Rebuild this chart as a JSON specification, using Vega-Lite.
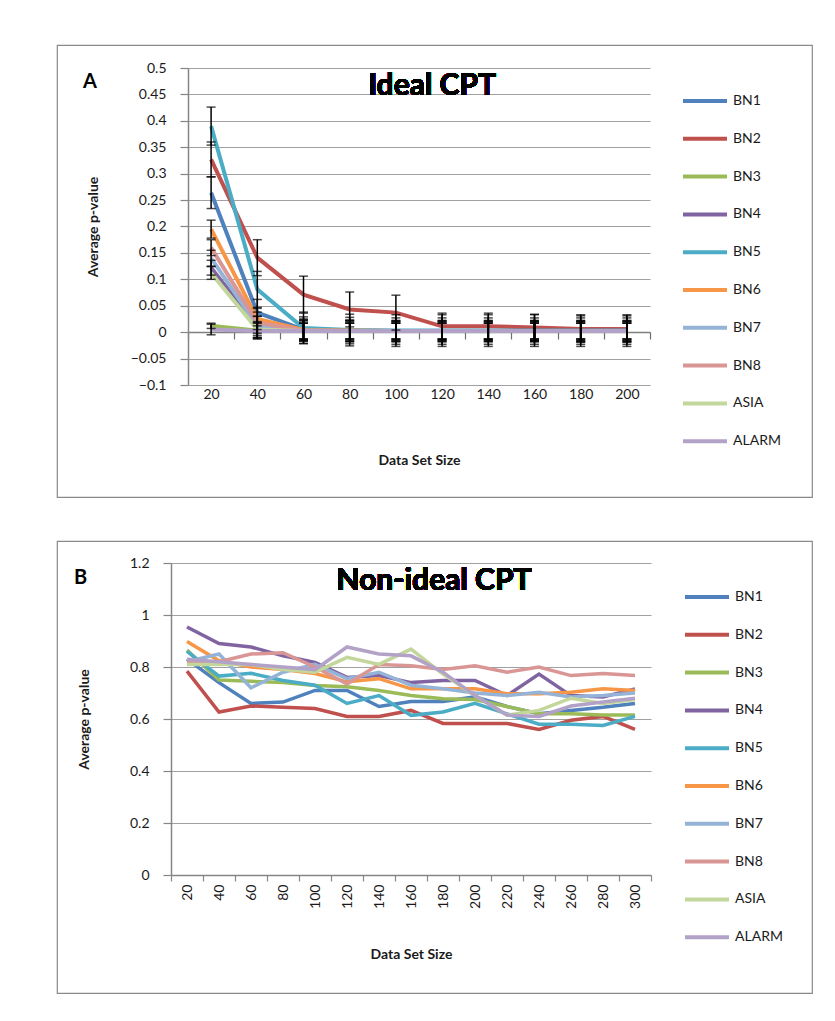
{
  "$schema": "https://vega.github.io/schema/vega-lite/v6.json",
  "background": "white",
  "padding": {"left": 49, "top": 44, "right": 5, "bottom": 5},
  "spacing": 42,
  "config": {
    "font": "Lato",
    "view": {"stroke": "#8a8a8a", "strokeWidth": 1.2},
    "axis": {"labelFont": "Lato", "labelFontSize": 14, "labelColor": "#1a1a1a", "titleFont": "Lato", "titleFontSize": 14, "titleFontWeight": "bold", "titleColor": "#1a1a1a", "domainColor": "#868686", "tickColor": "#868686", "gridColor": "#a0a0a0", "domainWidth": 1.5, "tickWidth": 1.2},
    "legend": {"labelFont": "Lato", "labelFontSize": 14, "labelColor": "#1a1a1a"}
  },
  "datasets": {
    "a": [
      {"s":"BN1","n":20,"v":0.264,"err":0.03},{"s":"BN1","n":40,"v":0.037,"err":0.025},{"s":"BN1","n":60,"v":0.005,"err":0.02},{"s":"BN1","n":80,"v":0.003,"err":0.02},{"s":"BN1","n":100,"v":0.002,"err":0.018},{"s":"BN1","n":120,"v":0.002,"err":0.018},{"s":"BN1","n":140,"v":0.002,"err":0.018},{"s":"BN1","n":160,"v":0.002,"err":0.018},{"s":"BN1","n":180,"v":0.002,"err":0.018},{"s":"BN1","n":200,"v":0.002,"err":0.018},
      {"s":"BN2","n":20,"v":0.327,"err":0.033},{"s":"BN2","n":40,"v":0.141,"err":0.034},{"s":"BN2","n":60,"v":0.071,"err":0.035},{"s":"BN2","n":80,"v":0.043,"err":0.033},{"s":"BN2","n":100,"v":0.037,"err":0.033},{"s":"BN2","n":120,"v":0.011,"err":0.025},{"s":"BN2","n":140,"v":0.011,"err":0.025},{"s":"BN2","n":160,"v":0.009,"err":0.025},{"s":"BN2","n":180,"v":0.006,"err":0.025},{"s":"BN2","n":200,"v":0.006,"err":0.025},
      {"s":"BN3","n":20,"v":0.012,"err":0.005},{"s":"BN3","n":40,"v":0.003,"err":0.015},{"s":"BN3","n":60,"v":0.002,"err":0.015},{"s":"BN3","n":80,"v":0.002,"err":0.015},{"s":"BN3","n":100,"v":0.002,"err":0.015},{"s":"BN3","n":120,"v":0.002,"err":0.015},{"s":"BN3","n":140,"v":0.002,"err":0.015},{"s":"BN3","n":160,"v":0.002,"err":0.015},{"s":"BN3","n":180,"v":0.002,"err":0.015},{"s":"BN3","n":200,"v":0.002,"err":0.015},
      {"s":"BN4","n":20,"v":0.122,"err":0.014},{"s":"BN4","n":40,"v":0.01,"err":0.02},{"s":"BN4","n":60,"v":0.003,"err":0.02},{"s":"BN4","n":80,"v":0.002,"err":0.02},{"s":"BN4","n":100,"v":0.002,"err":0.02},{"s":"BN4","n":120,"v":0.002,"err":0.02},{"s":"BN4","n":140,"v":0.002,"err":0.02},{"s":"BN4","n":160,"v":0.002,"err":0.02},{"s":"BN4","n":180,"v":0.002,"err":0.02},{"s":"BN4","n":200,"v":0.002,"err":0.02},
      {"s":"BN5","n":20,"v":0.39,"err":0.036},{"s":"BN5","n":40,"v":0.081,"err":0.034},{"s":"BN5","n":60,"v":0.008,"err":0.03},{"s":"BN5","n":80,"v":0.004,"err":0.03},{"s":"BN5","n":100,"v":0.003,"err":0.03},{"s":"BN5","n":120,"v":0.003,"err":0.03},{"s":"BN5","n":140,"v":0.003,"err":0.03},{"s":"BN5","n":160,"v":0.003,"err":0.03},{"s":"BN5","n":180,"v":0.003,"err":0.03},{"s":"BN5","n":200,"v":0.003,"err":0.03},
      {"s":"BN6","n":20,"v":0.195,"err":0.017},{"s":"BN6","n":40,"v":0.025,"err":0.02},{"s":"BN6","n":60,"v":0.004,"err":0.025},{"s":"BN6","n":80,"v":0.003,"err":0.025},{"s":"BN6","n":100,"v":0.002,"err":0.025},{"s":"BN6","n":120,"v":0.002,"err":0.025},{"s":"BN6","n":140,"v":0.002,"err":0.025},{"s":"BN6","n":160,"v":0.002,"err":0.025},{"s":"BN6","n":180,"v":0.002,"err":0.025},{"s":"BN6","n":200,"v":0.002,"err":0.025},
      {"s":"BN7","n":20,"v":0.14,"err":0.015},{"s":"BN7","n":40,"v":0.012,"err":0.018},{"s":"BN7","n":60,"v":0.003,"err":0.018},{"s":"BN7","n":80,"v":0.002,"err":0.018},{"s":"BN7","n":100,"v":0.002,"err":0.018},{"s":"BN7","n":120,"v":0.002,"err":0.018},{"s":"BN7","n":140,"v":0.002,"err":0.018},{"s":"BN7","n":160,"v":0.002,"err":0.018},{"s":"BN7","n":180,"v":0.002,"err":0.018},{"s":"BN7","n":200,"v":0.002,"err":0.018},
      {"s":"BN8","n":20,"v":0.16,"err":0.015},{"s":"BN8","n":40,"v":0.018,"err":0.02},{"s":"BN8","n":60,"v":0.003,"err":0.02},{"s":"BN8","n":80,"v":0.002,"err":0.02},{"s":"BN8","n":100,"v":0.002,"err":0.02},{"s":"BN8","n":120,"v":0.002,"err":0.02},{"s":"BN8","n":140,"v":0.002,"err":0.02},{"s":"BN8","n":160,"v":0.002,"err":0.02},{"s":"BN8","n":180,"v":0.002,"err":0.02},{"s":"BN8","n":200,"v":0.002,"err":0.02},
      {"s":"ASIA","n":20,"v":0.112,"err":0.012},{"s":"ASIA","n":40,"v":0.005,"err":0.015},{"s":"ASIA","n":60,"v":0.002,"err":0.015},{"s":"ASIA","n":80,"v":0.002,"err":0.015},{"s":"ASIA","n":100,"v":0.002,"err":0.015},{"s":"ASIA","n":120,"v":0.002,"err":0.015},{"s":"ASIA","n":140,"v":0.002,"err":0.015},{"s":"ASIA","n":160,"v":0.002,"err":0.015},{"s":"ASIA","n":180,"v":0.002,"err":0.015},{"s":"ASIA","n":200,"v":0.002,"err":0.015},
      {"s":"ALARM","n":20,"v":0.005,"err":0.01},{"s":"ALARM","n":40,"v":0.002,"err":0.015},{"s":"ALARM","n":60,"v":0.002,"err":0.015},{"s":"ALARM","n":80,"v":0.002,"err":0.015},{"s":"ALARM","n":100,"v":0.002,"err":0.015},{"s":"ALARM","n":120,"v":0.002,"err":0.015},{"s":"ALARM","n":140,"v":0.002,"err":0.015},{"s":"ALARM","n":160,"v":0.002,"err":0.015},{"s":"ALARM","n":180,"v":0.002,"err":0.015},{"s":"ALARM","n":200,"v":0.002,"err":0.015}
    ],
    "b": [
      {"s":"BN1","n":20,"v":0.83},{"s":"BN1","n":40,"v":0.74},{"s":"BN1","n":60,"v":0.66},{"s":"BN1","n":80,"v":0.665},{"s":"BN1","n":100,"v":0.71},{"s":"BN1","n":120,"v":0.71},{"s":"BN1","n":140,"v":0.648},{"s":"BN1","n":160,"v":0.667},{"s":"BN1","n":180,"v":0.667},{"s":"BN1","n":200,"v":0.685},{"s":"BN1","n":220,"v":0.648},{"s":"BN1","n":240,"v":0.62},{"s":"BN1","n":260,"v":0.633},{"s":"BN1","n":280,"v":0.645},{"s":"BN1","n":300,"v":0.66},
      {"s":"BN2","n":20,"v":0.784},{"s":"BN2","n":40,"v":0.627},{"s":"BN2","n":60,"v":0.65},{"s":"BN2","n":80,"v":0.645},{"s":"BN2","n":100,"v":0.64},{"s":"BN2","n":120,"v":0.61},{"s":"BN2","n":140,"v":0.61},{"s":"BN2","n":160,"v":0.633},{"s":"BN2","n":180,"v":0.583},{"s":"BN2","n":200,"v":0.583},{"s":"BN2","n":220,"v":0.583},{"s":"BN2","n":240,"v":0.56},{"s":"BN2","n":260,"v":0.595},{"s":"BN2","n":280,"v":0.61},{"s":"BN2","n":300,"v":0.56},
      {"s":"BN3","n":20,"v":0.865},{"s":"BN3","n":40,"v":0.75},{"s":"BN3","n":60,"v":0.745},{"s":"BN3","n":80,"v":0.74},{"s":"BN3","n":100,"v":0.729},{"s":"BN3","n":120,"v":0.724},{"s":"BN3","n":140,"v":0.71},{"s":"BN3","n":160,"v":0.69},{"s":"BN3","n":180,"v":0.678},{"s":"BN3","n":200,"v":0.675},{"s":"BN3","n":220,"v":0.648},{"s":"BN3","n":240,"v":0.62},{"s":"BN3","n":260,"v":0.62},{"s":"BN3","n":280,"v":0.615},{"s":"BN3","n":300,"v":0.615},
      {"s":"BN4","n":20,"v":0.954},{"s":"BN4","n":40,"v":0.89},{"s":"BN4","n":60,"v":0.877},{"s":"BN4","n":80,"v":0.843},{"s":"BN4","n":100,"v":0.818},{"s":"BN4","n":120,"v":0.76},{"s":"BN4","n":140,"v":0.767},{"s":"BN4","n":160,"v":0.74},{"s":"BN4","n":180,"v":0.748},{"s":"BN4","n":200,"v":0.748},{"s":"BN4","n":220,"v":0.69},{"s":"BN4","n":240,"v":0.773},{"s":"BN4","n":260,"v":0.69},{"s":"BN4","n":280,"v":0.685},{"s":"BN4","n":300,"v":0.716},
      {"s":"BN5","n":20,"v":0.86},{"s":"BN5","n":40,"v":0.765},{"s":"BN5","n":60,"v":0.776},{"s":"BN5","n":80,"v":0.748},{"s":"BN5","n":100,"v":0.73},{"s":"BN5","n":120,"v":0.66},{"s":"BN5","n":140,"v":0.69},{"s":"BN5","n":160,"v":0.614},{"s":"BN5","n":180,"v":0.627},{"s":"BN5","n":200,"v":0.66},{"s":"BN5","n":220,"v":0.62},{"s":"BN5","n":240,"v":0.58},{"s":"BN5","n":260,"v":0.58},{"s":"BN5","n":280,"v":0.575},{"s":"BN5","n":300,"v":0.61},
      {"s":"BN6","n":20,"v":0.898},{"s":"BN6","n":40,"v":0.824},{"s":"BN6","n":60,"v":0.8},{"s":"BN6","n":80,"v":0.79},{"s":"BN6","n":100,"v":0.775},{"s":"BN6","n":120,"v":0.743},{"s":"BN6","n":140,"v":0.755},{"s":"BN6","n":160,"v":0.716},{"s":"BN6","n":180,"v":0.716},{"s":"BN6","n":200,"v":0.716},{"s":"BN6","n":220,"v":0.697},{"s":"BN6","n":240,"v":0.697},{"s":"BN6","n":260,"v":0.703},{"s":"BN6","n":280,"v":0.716},{"s":"BN6","n":300,"v":0.71},
      {"s":"BN7","n":20,"v":0.82},{"s":"BN7","n":40,"v":0.85},{"s":"BN7","n":60,"v":0.72},{"s":"BN7","n":80,"v":0.78},{"s":"BN7","n":100,"v":0.81},{"s":"BN7","n":120,"v":0.755},{"s":"BN7","n":140,"v":0.78},{"s":"BN7","n":160,"v":0.73},{"s":"BN7","n":180,"v":0.716},{"s":"BN7","n":200,"v":0.7},{"s":"BN7","n":220,"v":0.69},{"s":"BN7","n":240,"v":0.703},{"s":"BN7","n":260,"v":0.685},{"s":"BN7","n":280,"v":0.69},{"s":"BN7","n":300,"v":0.7},
      {"s":"BN8","n":20,"v":0.815},{"s":"BN8","n":40,"v":0.82},{"s":"BN8","n":60,"v":0.85},{"s":"BN8","n":80,"v":0.855},{"s":"BN8","n":100,"v":0.8},{"s":"BN8","n":120,"v":0.735},{"s":"BN8","n":140,"v":0.81},{"s":"BN8","n":160,"v":0.805},{"s":"BN8","n":180,"v":0.79},{"s":"BN8","n":200,"v":0.805},{"s":"BN8","n":220,"v":0.78},{"s":"BN8","n":240,"v":0.8},{"s":"BN8","n":260,"v":0.767},{"s":"BN8","n":280,"v":0.775},{"s":"BN8","n":300,"v":0.767},
      {"s":"ASIA","n":20,"v":0.81},{"s":"ASIA","n":40,"v":0.81},{"s":"ASIA","n":60,"v":0.81},{"s":"ASIA","n":80,"v":0.79},{"s":"ASIA","n":100,"v":0.78},{"s":"ASIA","n":120,"v":0.837},{"s":"ASIA","n":140,"v":0.81},{"s":"ASIA","n":160,"v":0.869},{"s":"ASIA","n":180,"v":0.773},{"s":"ASIA","n":200,"v":0.69},{"s":"ASIA","n":220,"v":0.615},{"s":"ASIA","n":240,"v":0.633},{"s":"ASIA","n":260,"v":0.68},{"s":"ASIA","n":280,"v":0.66},{"s":"ASIA","n":300,"v":0.675},
      {"s":"ALARM","n":20,"v":0.83},{"s":"ALARM","n":40,"v":0.82},{"s":"ALARM","n":60,"v":0.81},{"s":"ALARM","n":80,"v":0.8},{"s":"ALARM","n":100,"v":0.79},{"s":"ALARM","n":120,"v":0.877},{"s":"ALARM","n":140,"v":0.85},{"s":"ALARM","n":160,"v":0.843},{"s":"ALARM","n":180,"v":0.78},{"s":"ALARM","n":200,"v":0.69},{"s":"ALARM","n":220,"v":0.615},{"s":"ALARM","n":240,"v":0.61},{"s":"ALARM","n":260,"v":0.65},{"s":"ALARM","n":280,"v":0.665},{"s":"ALARM","n":300,"v":0.68}
    ]
  },
  "vconcat": [
    {
      "width": 755,
      "height": 452,
      "title": {"text": "A", "anchor": "start", "frame": "group", "fontSize": 20, "fontWeight": "bold", "font": "Lato", "color": "#000", "baseline": "top", "offset": -47, "dx": 26},
      "data": {"name": "a"},
      "resolve": {"axis": {"x": "independent", "y": "independent"}},
      "layer": [
        {
          "mark": {"type": "line", "strokeWidth": 4},
          "encoding": {
            "x": {"field": "n", "type": "ordinal", "scale": {"type": "band", "domain": [20,40,60,80,100,120,140,160,180,200], "range": [131, 593], "paddingInner": 0, "paddingOuter": 0},
              "axis": {"orient": "bottom", "offset": -165, "title": "Data Set Size", "titlePadding": 52, "labelAngle": 0, "domain": true, "domainColor": "#808080", "ticks": true, "tickBand": "extent", "tickSize": 7, "tickColor": "#6e6e6e", "labelPadding": 48, "grid": false}},
            "y": {"field": "v", "type": "quantitative", "scale": {"domain": [-0.1, 0.5], "range": [340, 23], "nice": false, "zero": false},
              "axis": {"orient": "left", "offset": -131, "title": "Average p-value", "values": [-0.1,-0.05,0,0.05,0.1,0.15,0.2,0.25,0.3,0.35,0.4,0.45,0.5], "format": ".2~f", "grid": true, "tickSize": 8, "labelPadding": 14, "titlePadding": 30}},
            "color": {"field": "s", "type": "nominal", "scale": {"domain": ["BN1","BN2","BN3","BN4","BN5","BN6","BN7","BN8","ASIA","ALARM"], "range": ["#4F81BD","#C0504D","#9BBB59","#8064A2","#4BACC6","#F79646","#95B3D7","#D99694","#C3D69B","#B3A2C7"]},
              "legend": {"title": null, "orient": "none", "legendX": 624, "legendY": 46, "symbolType": "stroke", "symbolSize": 1936, "symbolStrokeWidth": 4, "clipHeight": 20, "rowPadding": 17.8, "labelOffset": 4, "padding": 0}}
          }
        },
        {
          "mark": {"type": "errorbar", "ticks": {"size": 9, "color": "black", "thickness": 1.5}, "rule": {"color": "black", "strokeWidth": 1.5}},
          "encoding": {
            "x": {"field": "n", "type": "ordinal", "axis": null},
            "y": {"field": "v", "type": "quantitative", "axis": null},
            "yError": {"field": "err"}
          }
        },
        {
          "mark": {"type": "text", "text": "Ideal CPT", "fontSize": 30, "fontWeight": "bold", "font": "Lato", "color": "#000", "dx": -10, "baseline": "middle", "align": "center"},
          "encoding": {
            "x": {"datum": 120, "type": "ordinal", "axis": null},
            "y": {"datum": 0.466, "type": "quantitative", "axis": null}
          }
        }
      ]
    },
    {
      "width": 755,
      "height": 452,
      "title": {"text": "B", "anchor": "start", "frame": "group", "fontSize": 20, "fontWeight": "bold", "font": "Lato", "color": "#000", "baseline": "top", "offset": -47, "dx": 17},
      "data": {"name": "b"},
      "layer": [
        {
          "mark": {"type": "line", "strokeWidth": 3.5},
          "encoding": {
            "x": {"field": "n", "type": "ordinal", "scale": {"type": "band", "domain": [20,40,60,80,100,120,140,160,180,200,220,240,260,280,300], "range": [114, 594], "paddingInner": 0, "paddingOuter": 0},
              "axis": {"orient": "bottom", "offset": -118, "title": "Data Set Size", "titlePadding": 39, "labelAngle": -90, "tickBand": "extent", "tickSize": 6, "labelPadding": 3, "grid": false}},
            "y": {"field": "v", "type": "quantitative", "scale": {"domain": [0, 1.2], "range": [334, 22], "nice": false},
              "axis": {"orient": "left", "offset": -114, "title": "Average p-value", "values": [0,0.2,0.4,0.6,0.8,1,1.2], "format": "~g", "grid": true, "tickSize": 8, "labelPadding": 14, "titlePadding": 38}},
            "color": {"field": "s", "type": "nominal", "scale": {"domain": ["BN1","BN2","BN3","BN4","BN5","BN6","BN7","BN8","ASIA","ALARM"], "range": ["#4F81BD","#C0504D","#9BBB59","#8064A2","#4BACC6","#F79646","#95B3D7","#D99694","#C3D69B","#B3A2C7"]},
              "legend": {"title": null, "orient": "none", "legendX": 626, "legendY": 46, "symbolType": "stroke", "symbolSize": 1936, "symbolStrokeWidth": 4, "clipHeight": 20, "rowPadding": 17.8, "labelOffset": 4, "padding": 0}}
          }
        },
        {
          "mark": {"type": "text", "text": "Non-ideal CPT", "fontSize": 30, "fontWeight": "bold", "font": "Lato", "color": "#000", "dx": -9, "baseline": "middle", "align": "center"},
          "encoding": {"x": {"datum": 180, "type": "ordinal"}, "y": {"datum": 1.131, "type": "quantitative"}}
        }
      ]
    }
  ],
  "resolve": {"scale": {"color": "independent"}}
}
